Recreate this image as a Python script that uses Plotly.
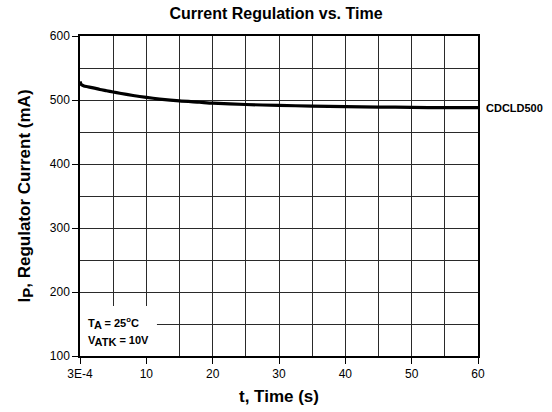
import plotly.graph_objects as go

t_s = [0.0003, 0.2, 0.6, 1, 2, 3, 4, 5, 6, 8, 10, 12, 15, 18, 20, 25, 30, 35, 40, 45, 50, 55, 60]
i_ma = [529, 524, 522, 521, 519, 516.5, 514.5, 512.5, 510.5, 507, 504, 501.5, 498.5, 496.5,
        495, 493, 491.5, 490.5, 489.5, 489, 488.5, 488, 488]
x_tickvals = [0, 10, 20, 30, 40, 50, 60]
x_ticktext = ["3E-4", "10", "20", "30", "40", "50", "60"]
y_tickvals = [100, 200, 300, 400, 500, 600]
series_name = "CDCLD500"

font = "Liberation Sans, Arial, sans-serif"
grid = "#2a2a2a"

fig = go.Figure()
fig.add_trace(go.Scatter(x=t_s, y=i_ma, mode="lines", name=series_name,
                         line=dict(color="black", width=3.2, shape="spline", smoothing=0.6),
                         showlegend=False, cliponaxis=False))

fig.update_layout(
    width=552, height=412,
    margin=dict(l=80, r=74, t=36, b=56, autoexpand=False),
    paper_bgcolor="white", plot_bgcolor="white",
    font=dict(family=font, color="black", size=12),
    title=dict(text="<b>Current Regulation vs. Time</b>", x=0.5, xanchor="center",
               y=1 - 13 / 412, yanchor="middle", font=dict(size=16, family=font),
               automargin=False),
)
fig.update_xaxes(
    range=[0, 60], tickvals=x_tickvals, ticktext=x_ticktext, automargin=False,
    showgrid=True, gridcolor=grid, gridwidth=1,
    minor=dict(dtick=5, tick0=0, showgrid=True, gridcolor=grid, gridwidth=1),
    showline=True, linecolor="black", linewidth=1.5, mirror=True,
    ticks="outside", ticklen=6, tickcolor="black", tickwidth=1,
    zeroline=False, tickfont=dict(size=12),
    title=dict(text="<b>t, Time (s)</b>", font=dict(size=17), standoff=10),
)
fig.update_yaxes(
    range=[100, 600], tickvals=y_tickvals, automargin=False,
    showgrid=True, gridcolor=grid, gridwidth=1,
    minor=dict(dtick=50, tick0=100, showgrid=True, gridcolor=grid, gridwidth=1),
    showline=True, linecolor="black", linewidth=1.5, mirror=True,
    ticks="outside", ticklen=6, tickcolor="black", tickwidth=1,
    zeroline=False, tickfont=dict(size=12),
    title=dict(text="<b>I<sub><span style='font-size:15px'>P</span></sub>, Regulator Current (mA)</b>",
               font=dict(size=17), standoff=15),
)

fig.add_shape(type="rect", xref="x", yref="y", x0=0, x1=11.6, y0=100, y1=178,
              fillcolor="white", line=dict(width=0), layer="between")

fig.add_annotation(xref="x", yref="y", x=0.9, y=152, xanchor="left", yanchor="middle",
                   text="<b>T<sub><span style='font-size:11px'>A</span></sub> = 25<sup>o</sup>C</b>",
                   showarrow=False, font=dict(size=11, family=font))
fig.add_annotation(xref="x", yref="y", x=0.9, y=124, xanchor="left", yanchor="middle",
                   text="<b>V<sub><span style='font-size:11px'>ATK</span></sub> = 10V</b>",
                   showarrow=False, font=dict(size=11, family=font))
fig.add_annotation(xref="x", yref="y", x=60, y=i_ma[-1], xanchor="left", yanchor="middle",
                   xshift=6, text="<b>" + series_name + "</b>", showarrow=False,
                   font=dict(size=11, family=font))

fig.write_html("out.html", config={"displayModeBar": False},
               post_script="document.body.style.margin='0';document.body.style.overflow='hidden';")
